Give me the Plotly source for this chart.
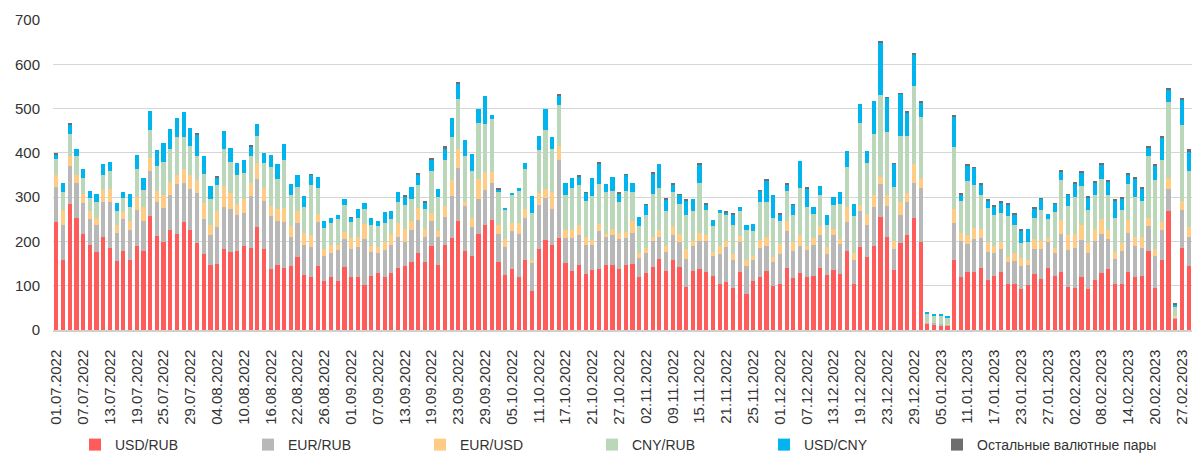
import pandas as pd
import plotly.graph_objects as go

# Trading days 01.07.2022 - 28.02.2023 (weekdays minus exchange holidays)
holidays = ["2022-11-04", "2023-01-02", "2023-02-23"]
days = [d for d in pd.bdate_range("2022-07-01", "2023-02-28") if d.strftime("%Y-%m-%d") not in holidays]
dates = [d.strftime("%d.%m.%Y") for d in days]
tick_labels = dates[::4]

usd_rub = [243,157,284,254,217,192,177,211,185,156,178,159,189,179,258,213,199,226,
           217,243,226,196,171,147,150,183,177,179,190,186,233,184,138,147,139,144,164,
           124,119,144,110,120,110,143,119,119,102,123,128,119,129,139,144,154,174,153,189,
           147,191,207,247,179,166,216,238,249,154,125,138,119,158,89,183,203,192,207,
           151,134,147,127,136,138,147,147,138,146,148,119,128,143,161,134,158,143,96,134,
           137,130,121,103,109,95,132,81,110,119,134,99,105,139,117,128,119,121,141,
           125,136,127,178,105,187,165,190,256,211,136,196,214,254,199,14,13,11,11,
           159,119,132,132,139,112,123,132,105,104,92,101,126,115,139,123,132,97,95,119,
           92,114,128,138,105,104,131,119,122,178,94,159,269,26,185,144]

eur_rub = [79,81,87,77,69,58,59,79,104,64,73,66,83,68,100,75,76,78,
           112,90,93,114,79,67,82,95,96,81,75,117,108,108,120,99,104,67,77,
           68,68,100,57,55,71,62,64,68,103,54,47,62,63,72,55,71,75,56,58,
           62,65,95,119,102,66,79,79,82,62,62,85,98,95,62,100,95,82,176,
           56,74,67,65,56,85,62,67,67,61,72,43,46,57,50,43,56,55,64,56,
           65,72,47,68,78,64,66,63,49,67,56,54,67,84,61,61,61,70,73,
           46,78,68,67,54,81,73,87,73,69,47,63,74,79,122,3,3,3,1,
           82,83,62,73,69,65,52,52,49,51,52,45,57,67,59,51,85,84,91,85,
           82,88,88,67,55,74,88,70,64,56,74,66,50,3,86,65]

eur_usd = [27,33,22,20,22,18,16,27,29,18,16,21,28,31,31,25,30,30,
           22,30,30,28,36,24,36,48,37,24,30,29,37,29,21,27,32,24,27,
           26,27,18,16,16,12,16,25,23,34,12,12,17,25,30,30,22,26,20,17,
           14,25,36,42,9,20,46,39,25,22,19,18,24,20,8,27,21,37,33,
           18,17,24,17,12,17,8,14,14,15,26,13,11,11,15,12,20,19,23,12,
           18,13,9,18,15,12,15,14,7,18,19,12,23,23,20,25,10,17,21,
           16,15,10,32,15,15,24,28,16,25,19,29,21,42,23,2,0,0,1,
           33,17,20,26,21,21,15,14,11,18,18,11,22,20,10,12,32,33,30,34,
           22,27,35,21,17,18,30,21,24,19,16,18,24,2,21,23]

cny_rub = [37,40,50,43,35,31,37,34,41,30,31,31,64,39,63,58,75,75,
           84,72,67,54,67,58,60,83,70,65,59,60,60,57,88,68,109,70,55,
           59,114,59,48,50,57,61,36,43,34,47,48,43,34,48,54,49,53,45,94,
           77,103,98,114,102,107,126,109,120,73,65,64,73,90,106,97,133,97,92,
           80,95,90,82,99,89,94,85,69,91,66,60,74,97,95,79,77,68,77,66,
           111,55,58,75,57,67,55,68,58,85,80,89,52,69,62,106,87,54,70,
           51,53,80,92,84,184,115,138,185,142,122,149,128,176,136,19,16,18,15,
           140,73,122,97,76,78,69,67,93,65,34,41,47,68,43,80,89,66,84,88,
           74,75,90,79,75,75,80,90,82,141,155,141,172,22,171,128]

usd_cny = [11,22,22,15,21,16,18,23,21,18,13,31,31,27,42,35,43,45,
           43,57,40,49,41,30,16,40,31,28,30,22,28,21,29,34,36,24,26,
           25,22,24,16,12,9,13,9,20,13,17,12,25,17,22,19,27,24,15,28,
           18,25,42,34,37,39,32,64,9,6,4,4,6,14,37,31,48,28,21,
           27,23,19,19,40,46,19,32,21,37,21,20,24,45,54,27,18,20,32,28,
           42,14,14,7,6,22,10,12,16,25,49,51,14,14,23,62,42,15,21,
           22,18,26,36,27,44,27,75,120,77,51,96,55,72,32,3,3,4,4,
           69,15,35,38,24,16,20,23,26,22,28,31,23,26,11,19,21,25,31,30,
           30,29,33,30,41,24,21,41,27,18,32,51,27,4,58,43]

other = [1,0,1,0,0,0,0,0,0,0,0,0,0,0,0,0,0,0,
         0,0,0,2,0,0,2,0,0,0,0,2,0,0,0,0,0,0,0,
         0,2,0,0,0,0,0,1,0,0,0,0,0,0,0,3,0,1,1,2,
         0,7,0,2,0,0,0,0,0,2,0,0,0,0,0,0,0,0,2,
         0,0,2,1,0,3,0,0,2,2,0,0,1,2,0,2,1,2,2,0,
         2,2,0,0,2,2,0,0,0,2,2,0,1,2,1,0,2,0,0,
         0,0,0,0,0,0,0,0,3,2,2,2,3,2,5,0,0,0,0,
         3,2,3,2,2,3,2,2,2,2,2,0,2,2,0,1,2,2,1,3,
         2,2,2,2,2,5,3,3,2,2,3,2,4,2,3,5]

series = [
    ("USD/RUB", usd_rub, "#FF5B5B"),
    ("EUR/RUB", eur_rub, "#B8B8B8"),
    ("EUR/USD", eur_usd, "#FFCC85"),
    ("CNY/RUB", cny_rub, "#BAD7BA"),
    ("USD/CNY", usd_cny, "#00B5EE"),
    ("Остальные валютные пары", other, "#6E6E6E"),
]

W, H = 1200, 464
ML, MR, MT, MB = 53, 8, 20, 134
plot_w = W - ML - MR
plot_h = H - MT - MB
legend_px = [75, 248, 420, 592, 764, 937]   # left edge of each legend entry, px
legend_y_px = 445

fig = go.Figure()
legend_layouts = {}
for i, (name, vals, col) in enumerate(series):
    lname = "legend" if i == 0 else f"legend{i + 1}"
    fig.add_trace(go.Bar(x=dates, y=vals, name=name, legend=lname, showlegend=True,
                         marker=dict(color=col, line=dict(width=0))))
    legend_layouts[lname] = dict(
        orientation="h", x=(legend_px[i] - ML) / plot_w, xanchor="left",
        y=-(legend_y_px - (H - MB)) / plot_h, yanchor="middle",
        font=dict(size=14, color="#333333"), itemclick=False, itemdoubleclick=False,
        bgcolor="rgba(0,0,0,0)")

font_fam = "Liberation Sans, Arial, sans-serif"
fig.update_layout(
    width=W, height=H, showlegend=True,
    barmode="stack", bargap=0.38,
    plot_bgcolor="white", paper_bgcolor="white",
    margin=dict(l=ML, r=MR, t=MT, b=MB, autoexpand=False),
    font=dict(family=font_fam, size=15, color="#333333"),
    xaxis=dict(type="category", range=[-0.5, len(dates) - 0.5], tickmode="array",
               tickvals=tick_labels, ticktext=tick_labels, tickangle=-90, automargin=False,
               showgrid=False, showline=True, linecolor="#D0D0D0", linewidth=1.5,
               ticks="", ticklabelstandoff=12, tickfont=dict(size=15, color="#333333")),
    yaxis=dict(range=[0, 700], dtick=100, showgrid=True, gridcolor="#D6D6D6", gridwidth=1.3,
               zeroline=False, showline=False, ticks="", ticklabelstandoff=12, automargin=False,
               tickfont=dict(size=15, color="#333333")),
    **legend_layouts,
)

fig.write_html("out.html", config={"displayModeBar": False},
               post_script="document.body.style.margin='0';")
